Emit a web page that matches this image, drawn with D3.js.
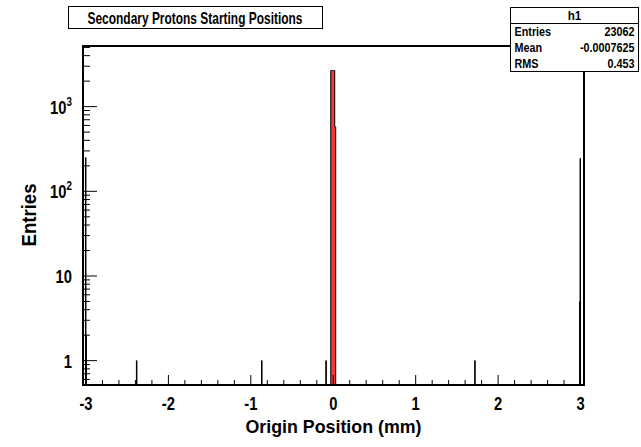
<!DOCTYPE html>
<html>
  <head>
    <meta charset="utf-8">
    <title>Secondary Protons Starting Positions</title>
    <script src="https://d3js.org/d3.v7.min.js"></script>
    <style>
      body { margin: 0; background: #fff; }
      svg text { font-family: "Liberation Sans", Arial, sans-serif; font-weight: bold; fill: #000; }
    </style>
  </head>
  <body>
    <div id="chart"></div>

    <script>
        // histogram h1: non-empty bins only (low edge in mm, entries), bin width 0.006 mm
        const binWidth = 0.006
        const binLow   = [-3.006, -3.000, -2.388, -0.870, -0.090,
                          -0.030, -0.024, -0.018, -0.012, -0.006, 0.000, 0.006, 0.012,
                          0.018, 0.024, 1.716, 2.988, 2.994]
        const binCount = [250, 2, 1, 1, 1,
                          2670, 2670, 2670, 2670, 2670, 2670, 2670, 2670,
                          574, 574, 1, 5, 245]

        const xRange     = [-3.036, 3.042]
        const yRange     = [0.516, 5200]
        const xTicks     = [-3, -2, -1, 0, 1, 2, 3]
        const yTickExp   = [0, 1, 2, 3]          // labelled decades
        const statNames  = ['Entries', 'Mean', 'RMS']
        const statValues = ['23062', '-0.0007625', '0.453']

        const width = 641, height = 447,
              frame = {left: 83, right: 584, top: 46, bottom: 385}

        let svg = d3.select('#chart').append('svg')
                .attr('width', width)
                .attr('height', height),

            x = d3.scaleLinear().domain(xRange).range([frame.left, frame.right]),
            y = d3.scaleLog().domain(yRange).range([frame.bottom, frame.top]).clamp(true)

        // text drawn a bit condensed, like the Helvetica of the original canvas
        function label(parent, px, py, str, size, sx, anchor) {
            let g = parent.append('g')
                .attr('transform', `translate(${px},${py}) scale(${sx},1)`)
            return g.append('text')
                .attr('text-anchor', anchor || 'start')
                .style('font-size', size + 'px')
                .text(str)
        }

        // expand sparse bins to a full step series
        let nBins = Math.round((xRange[1] - xRange[0]) / binWidth),
            counts = new Array(nBins).fill(0)
        binLow.forEach((b, i) => {
            counts[Math.round((b - xRange[0]) / binWidth)] = binCount[i]
        })
        let series = counts.map((n, i) => ({x: xRange[0] + i * binWidth, n: n}))
        series.push({x: xRange[1], n: 0})

        let yOf = d => d.n > 0 ? y(d.n) : frame.bottom

        let area = d3.area()
                .curve(d3.curveStepAfter)
                .x(d => x(d.x))
                .y0(frame.bottom)
                .y1(yOf),
            line = d3.line()
                .curve(d3.curveStepAfter)
                .x(d => x(d.x))
                .y(yOf)

        let plot = svg.append('g')

        plot.append('path')
            .datum(series)
            .attr('d', area)
            .attr('fill', '#f23a3a')

        plot.append('path')
            .datum(series)
            .attr('d', line)
            .attr('fill', 'none')
            .attr('stroke', '#000')
            .attr('stroke-width', 1)

        // x ticks: major on integers, minor every 0.2
        let xMinor = d3.range(-3, 3.001, 0.2).map(v => +v.toFixed(1))
        svg.append('g').selectAll('line')
            .data(xMinor)
            .join('line')
            .attr('x1', d => x(d)).attr('x2', d => x(d))
            .attr('y1', frame.bottom)
            .attr('y2', d => frame.bottom - (Number.isInteger(d) ? 10 : 5))
            .attr('stroke', '#000')
            .attr('stroke-width', 1)

        let xLab = svg.append('g')
        xTicks.forEach(d => label(xLab, x(d), 410, d, 18, 0.82, 'middle'))

        // y ticks: decades and 2..9 minors
        let yMinor = []
        for (let e = -1; e <= 3; e++)
            for (let m = 1; m <= 9; m++) {
                let v = m * Math.pow(10, e)
                if (v >= yRange[0] && v <= yRange[1]) yMinor.push({v: v, major: m === 1})
            }
        svg.append('g').selectAll('line')
            .data(yMinor)
            .join('line')
            .attr('x1', frame.left)
            .attr('x2', d => frame.left + (d.major ? 14 : 7))
            .attr('y1', d => y(d.v)).attr('y2', d => y(d.v))
            .attr('stroke', '#000')
            .attr('stroke-width', 1)

        let yLab = svg.append('g')
        yTickExp.forEach(d => {
            let py = y(Math.pow(10, d)) + 7
            if (d === 0) label(yLab, 72, py, '1', 18, 0.82, 'end')
            else if (d === 1) label(yLab, 72, py, '10', 18, 0.82, 'end')
            else {
                let t = label(yLab, 72, py, '', 18, 0.82, 'end')
                t.append('tspan').text('10')
                t.append('tspan').attr('dy', -8).style('font-size', '12px').text(d)
            }
        })

        // frame
        svg.append('rect')
            .attr('x', frame.left).attr('y', frame.top)
            .attr('width', frame.right - frame.left)
            .attr('height', frame.bottom - frame.top)
            .attr('fill', 'none')
            .attr('stroke', '#000')
            .attr('stroke-width', 2)

        // axis titles
        svg.append('text')
            .attr('x', 333.5)
            .attr('y', 433)
            .attr('text-anchor', 'middle')
            .attr('textLength', 176)
            .attr('lengthAdjust', 'spacingAndGlyphs')
            .style('font-size', '19px')
            .text('Origin Position (mm)')

        svg.append('text')
            .attr('transform', 'translate(36,' + 215 + ') rotate(-90)')
            .attr('text-anchor', 'middle')
            .attr('textLength', 63)
            .attr('lengthAdjust', 'spacingAndGlyphs')
            .style('font-size', '20px')
            .text('Entries')

        // title box
        let title = svg.append('g')
        title.append('rect')
            .attr('x', 68.5).attr('y', 6.5)
            .attr('width', 254).attr('height', 22)
            .attr('fill', '#fff').attr('stroke', '#000')
        title.append('text')
            .attr('x', 195).attr('y', 24)
            .attr('text-anchor', 'middle')
            .attr('textLength', 215)
            .attr('lengthAdjust', 'spacingAndGlyphs')
            .style('font-size', '17px')
            .text('Secondary Protons Starting Positions')

        // stats box
        let stats = svg.append('g'),
            sx0 = 510.5, sx1 = 638.5, sy0 = 7.5, rowH = 16
        stats.append('rect')
            .attr('x', sx0).attr('y', sy0)
            .attr('width', sx1 - sx0).attr('height', rowH * 4)
            .attr('fill', '#fff').attr('stroke', '#000')
        stats.append('line')
            .attr('x1', sx0).attr('x2', sx1)
            .attr('y1', sy0 + rowH).attr('y2', sy0 + rowH)
            .attr('stroke', '#000')
        label(stats, (sx0 + sx1) / 2, sy0 + 12.5, 'h1', 13, 0.9, 'middle')
        statNames.forEach((s, i) =>
            label(stats, sx0 + 4, sy0 + rowH * (i + 1) + 12.5, s, 12, 0.9, 'start'))
        statValues.forEach((s, i) =>
            label(stats, sx1 - 4, sy0 + rowH * (i + 1) + 12.5, s, 12, 0.9, 'end'))
    </script>
  </body>
</html>
